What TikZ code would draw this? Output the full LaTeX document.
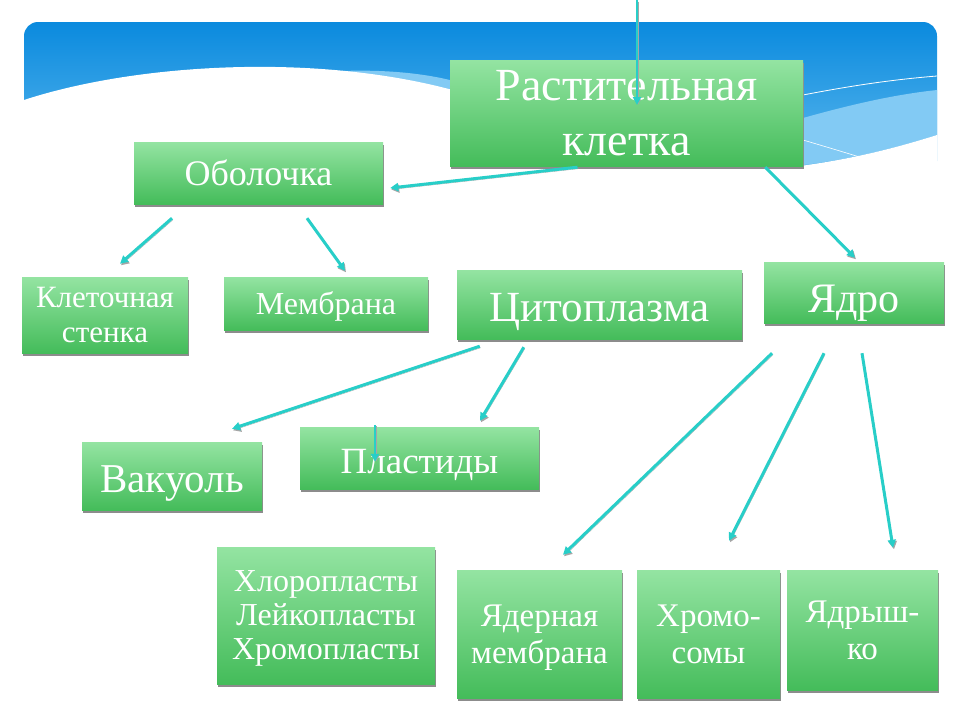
\documentclass[tikz,border=0pt]{standalone}
\usepackage{fontspec}
\setmainfont{Liberation Serif}
\usetikzlibrary{arrows.meta,shadows}
\definecolor{boxtop}{RGB}{148,228,162}
\definecolor{boxbot}{RGB}{68,188,90}
\definecolor{arrcol}{RGB}{40,206,200}
\definecolor{skytop}{RGB}{10,138,222}
\definecolor{skybot}{RGB}{96,186,238}
\definecolor{skylight}{RGB}{130,202,244}
\tikzset{
	cellbox/.style={top color=boxtop, bottom color=boxbot, text=white, align=center, inner sep=0pt, text depth=0pt,
		drop shadow={shadow xshift=1pt, shadow yshift=-3pt, fill=black!45, opacity=1}},
	link/.style={arrcol, line width=3pt, -{Triangle[length=8pt,width=8pt]},
		preaction={draw=black!35, transform canvas={shift={(1pt,-1.5pt)}}}}
}
\begin{document}
\begin{tikzpicture}[x=1pt,y=-1pt]
	\useasboundingbox (0,0) rectangle (960,720);
	% sky
	\shade[top color=skytop, bottom color=skybot, rounded corners=14pt] (24,22) rectangle (937,175);
	\fill[skylight] (803,118) .. controls (860,102) and (900,94) .. (937,90) -- (937,135) .. controls (905,145) and (860,158) .. (803,165) -- cycle;
	\fill[skylight] (240,84) .. controls (330,64) and (420,68) .. (470,86) -- (470,95) .. controls (400,76) and (320,70) .. (240,86) -- cycle;
	\fill[white] (24,100) .. controls (140,62) and (330,52) .. (470,95) -- (800,166) .. controls (860,158) and (905,145) .. (937,135) -- (937,185) -- (24,185) -- cycle;
	\draw[white, line width=.8pt] (803,95) .. controls (860,84) and (900,79) .. (937,76);
	\draw[white, line width=.6pt] (803,140) .. controls (830,148) and (850,154) .. (866,159);
	
	% boxes
	\node[cellbox, minimum width=353pt, minimum height=106pt, font=\fontsize{46}{55}\selectfont] (cell) at (626.5,113) {Растительная\\клетка};
	\node[cellbox, minimum width=249pt, minimum height=62pt, font=\fontsize{36}{40}\selectfont] (obol) at (258.5,173) {Оболочка};
	\node[cellbox, minimum width=166pt, minimum height=76pt, font=\fontsize{31}{35}\selectfont] (stenka) at (105,315) {Клеточная\\стенка};
	\node[cellbox, minimum width=204pt, minimum height=53pt, font=\fontsize{32}{36}\selectfont] (membr) at (326,303.5) {Мембрана};
	\node[cellbox, minimum width=285pt, minimum height=69pt, font=\fontsize{43}{48}\selectfont] (cyto) at (599.5,304.5) {\raisebox{-5pt}{Цитоплазма}};
	\node[cellbox, minimum width=180pt, minimum height=61pt, font=\fontsize{42}{46}\selectfont] (yadro) at (854,292.5) {\raisebox{-12pt}{Ядро}};
	\node[cellbox, minimum width=180pt, minimum height=68pt, font=\fontsize{41}{46}\selectfont] (vak) at (172,476) {\raisebox{-6pt}{Вакуоль}};
	\node[cellbox, minimum width=239pt, minimum height=62pt, font=\fontsize{37}{41}\selectfont] (plast) at (419.5,458) {\raisebox{-6pt}{Пластиды}};
	\node[cellbox, minimum width=218pt, minimum height=137pt, font=\fontsize{32}{34}\selectfont] (chloro) at (326,615.5) {Хлоропласты\\Лейкопласты\\Хромопласты};
	\node[cellbox, minimum width=165pt, minimum height=128pt, font=\fontsize{33}{37}\selectfont] (yamem) at (539.5,634) {Ядерная\\мембрана};
	\node[cellbox, minimum width=143pt, minimum height=128pt, font=\fontsize{33}{37}\selectfont] (chromo) at (708.5,634) {Хромо-\\сомы};
	\node[cellbox, minimum width=151pt, minimum height=120pt, font=\fontsize{33}{37}\selectfont] (yadrysh) at (862.5,630) {Ядрыш-\\ко};
	
	% arrows
	\coordinate (top) at (637,0);
	\draw[link, line width=2pt] (top) -- ([shift={(10.5,-8)}]cell.center);
	\draw[link] ([shift={(-49,1)}]cell.south) -- ([shift={(7,15)}]obol.east);
	\draw[link] ([shift={(-38,1)}]cell.south east) -- ([shift={(1,-4)}]yadro.north);
	\draw[link] ([shift={(-86.5,14)}]obol.south) -- ([shift={(15,-13)}]stenka.north);
	\draw[link] ([shift={(48.5,14)}]obol.south) -- ([shift={(19,-6)}]membr.north);
	\draw[link] ([shift={(23,7)}]cyto.south west) -- ([shift={(60,-13)}]vak.north);
	\draw[link] ([shift={(67,8)}]cyto.south west) -- ([shift={(60.5,-6)}]plast.north);
	\draw[link, line width=2pt] ([shift={(-44.5,-2)}]plast.north) -- ([shift={(-44.5,35)}]plast.north);
	\draw[link] ([shift={(-82,30)}]yadro.south) -- ([shift={(23.5,-15)}]yamem.north);
	\draw[link] ([shift={(-30,30)}]yadro.south) -- ([shift={(20.5,-29)}]chromo.north);
	\draw[link] ([shift={(8,30)}]yadro.south) -- ([shift={(30.5,-22)}]yadrysh.north);
\end{tikzpicture}
\end{document}
